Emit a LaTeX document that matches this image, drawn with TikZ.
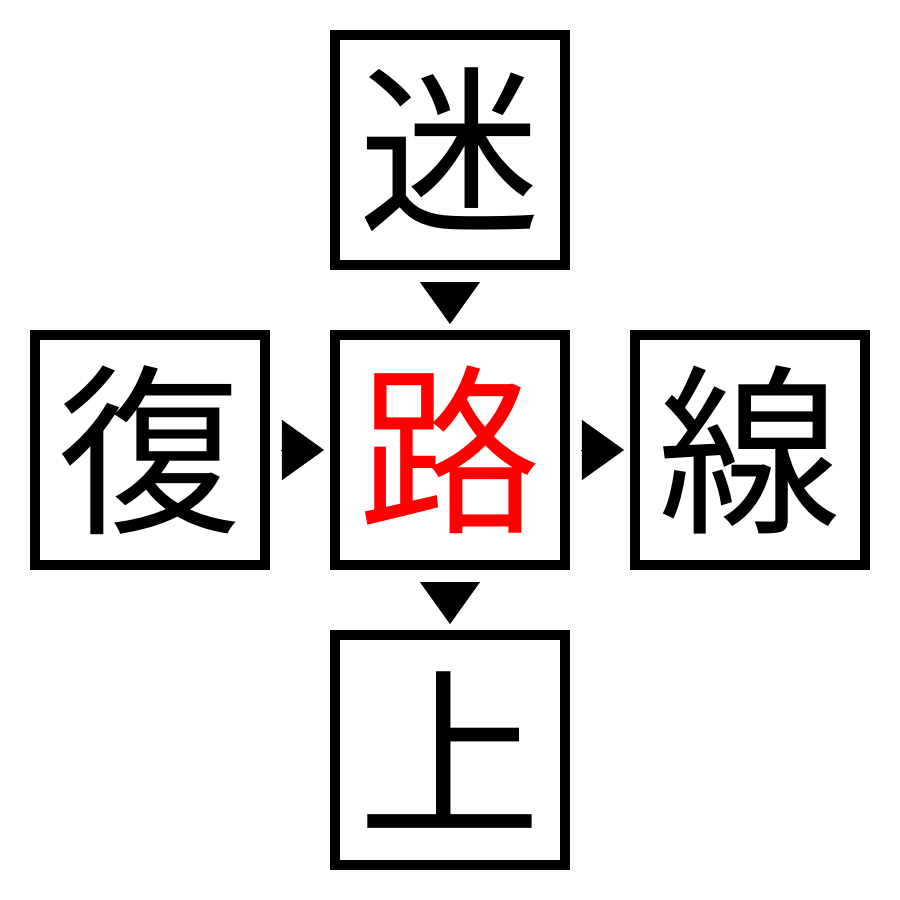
\documentclass[tikz,border=0pt]{standalone}
\usepackage{fontspec}
\newfontfamily\cjk{Noto Sans CJK JP}
\usepackage{tikz}
\usetikzlibrary{positioning,arrows.meta}

\begin{document}
\begin{tikzpicture}[
	node distance=6mm,
	kanji/.style={draw,line width=1mm,minimum size=23mm,inner sep=0pt,outer sep=0.5mm,font=\cjk\fontsize{52}{52}\selectfont},
	pointer/.style={-{Triangle[width=6mm,length=4.2mm]},line width=0.1pt,shorten >=0.6mm,shorten <=1.15mm}]
	\useasboundingbox (-45mm,-45mm) rectangle (45mm,45mm);
	\node (ro)[kanji,text=red]{路};
	\node (mi)[kanji,above=of ro]{迷};
	\node (fuku)[kanji,left=of ro]{復};
	\node (sen)[kanji,right=of ro]{線};
	\node (ue)[kanji,below=of ro]{上};

	% draw the connections
	\draw[pointer] (mi)--(ro);
	\draw[pointer] (fuku)--(ro);
	\draw[pointer] (ro)--(sen);
	\draw[pointer] (ro)--(ue);
\end{tikzpicture}
\end{document}
